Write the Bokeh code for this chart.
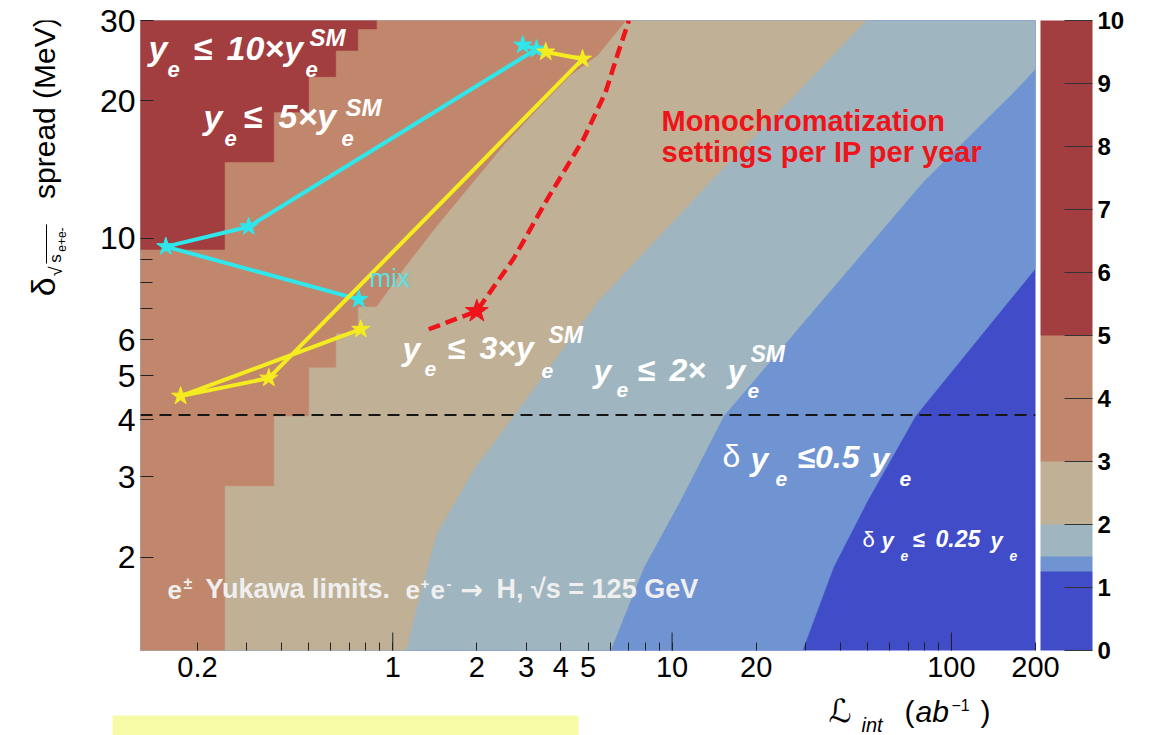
import math

from bokeh.plotting import figure
from bokeh.layouts import column, row
from bokeh.models import (Label, Span, FixedTicker, CustomJSTickFormatter, ColorBar,
                          LinearColorMapper, Range1d)
from bokeh.embed import file_html
from bokeh.resources import INLINE

# ---------------------------------------------------------------- data
# axis extents
lumi_range = (0.125, 200.0)     # integrated luminosity (ab^-1)
spread_range = (1.25, 30.0)     # centre-of-mass energy spread (MeV)

# contour levels of the y_e limit in units of y_e^SM, with their fills
levels = [0, 1.25, 1.5, 2, 3, 5, 10]
level_colors = ["#404cc8", "#7093d2", "#9fb6c0", "#bfb096", "#c0876c", "#a23e3f"]

# level 1.25 contour (delta y_e = 0.25 y_e)
edge_125_lumi = [29.3, 37.8, 50.1, 74.4, 200.0]
edge_125_spread = [1.25, 1.90, 2.66, 4.08, 8.59]

# level 1.5 contour (delta y_e = 0.5 y_e)
edge_150_lumi = [6.02, 7.92, 10.7, 15.3, 79.3, 167.0, 200.0]
edge_150_spread = [1.25, 1.90, 2.66, 4.08, 13.3, 20.9, 23.5]

# level 2 contour
edge_200_lumi = [1.113, 1.27, 1.437, 1.965, 2.71, 5.42, 13.7, 28.1, 49.5]
edge_200_spread = [1.25, 1.717, 2.254, 3.14, 4.08, 7.27, 13.3, 20.9, 30.0]

# level 3 contour: coarse luminosity bins, then the diagonal edge
edge_300_bins = [0.125, 0.25, 0.375, 0.5, 0.625, 0.75, 0.875]
edge_300_bin_spread = [1.25, 2.87, 4.08, 5.22, 6.19, 7.09]
edge_300_lumi = [1.095, 1.448, 1.902, 2.495, 3.30, 4.33, 5.42, 6.65, 6.8]
edge_300_spread = [8.59, 10.7, 13.1, 16.0, 19.2, 22.8, 25.2, 29.4, 30.0]

# level 5 contour: coarse luminosity bins
edge_500_bins = [0.125, 0.25, 0.375, 0.5, 0.625, 0.75, 0.875]
edge_500_bin_spread = [9.45, 14.7, 18.9, 22.6, 25.8, 28.75]

# running scenarios
mix_lumi = [2.92, 3.27, 0.305, 0.154, 0.756]
mix_spread = [26.5, 25.97, 10.6, 9.59, 7.35]
yellow_lumi = [3.53, 4.78, 0.360, 0.174, 0.768]
yellow_spread = [25.6, 24.7, 4.94, 4.51, 6.32]

# monochromatization settings per IP per year
mono_lumi = [1.345, 1.996, 2.71, 3.58, 4.82, 5.78, 6.37, 6.93, 7.0]
mono_spread = [6.32, 6.92, 9.03, 12.2, 16.5, 20.9, 25.2, 29.4, 30.0]
mono_point_lumi = [2.0]
mono_point_spread = [6.92]

# reference spread
spread_ref = 4.1

# axis ticks
x_labelled_ticks = [0.2, 1, 2, 3, 4, 5, 10, 20, 100, 200]
x_minor_ticks = [0.3, 0.4, 0.5, 0.6, 0.7, 0.8, 0.9, 6, 7, 8, 9, 30, 40, 50, 60, 70, 80, 90]
x_decades = [1, 10, 100]
y_labelled_ticks = [2, 3, 4, 5, 6, 10, 20, 30]
y_minor_ticks = [7, 8, 9]
z_ticks = list(range(11))

# ---------------------------------------------------------------- layout
W, H = 1153, 735
TITLE_W = 70                      # strip holding the vertical axis title
BOTTOM_H = 43                     # strip holding the horizontal axis title
LEFT, RIGHT, TOP = 140, 118, 20   # frame position on the page
MAIN_H = H - BOTTOM_H
FRAME_W = W - LEFT - RIGHT
FRAME_H = 630
FONT = "Liberation Sans"
BASELINE_SHIFT = 0.42             # label anchor correction, in em

CYAN = "#2fe6ea"
YELLOW = "#f4ec1e"
RED = "#ee1419"

p = figure(width=W - TITLE_W, height=MAIN_H, x_axis_type="log", y_axis_type="log",
           x_range=Range1d(*lumi_range), y_range=Range1d(*spread_range),
           min_border_left=LEFT - TITLE_W, min_border_right=RIGHT,
           min_border_top=TOP, min_border_bottom=MAIN_H - TOP - FRAME_H,
           output_backend="svg", toolbar_location=None)
p.grid.visible = False
p.outline_line_color = None
p.background_fill_color = level_colors[0]
p.border_fill_color = "white"


def lumi_at(px):
    """Luminosity at a horizontal page pixel."""
    lo, hi = lumi_range
    return 10 ** (math.log10(lo) + (px - LEFT) / FRAME_W * math.log10(hi / lo))


def spread_at(py):
    """Energy spread at a vertical page pixel."""
    lo, hi = spread_range
    return 10 ** (math.log10(hi) - (py - TOP) / FRAME_H * math.log10(hi / lo))


def steps(edges, thresholds):
    xs, ys = [], []
    for i, t in enumerate(thresholds):
        xs += [edges[i], edges[i + 1]]
        ys += [t, t]
    return xs, ys


def region_above(lumi, spread):
    """Polygon of the area above/left of a contour edge."""
    xs, ys = list(lumi), list(spread)
    if xs[0] > lumi_range[0]:
        xs.insert(0, lumi_range[0])
        ys.insert(0, spread_range[0])
    if ys[-1] < spread_range[1]:
        if xs[-1] >= lumi_range[1]:
            xs.append(lumi_range[1])
        else:
            xs.append(xs[-1])
        ys.append(spread_range[1])
    xs.append(lumi_range[0])
    ys.append(spread_range[1])
    return xs, ys


# ---------------------------------------------------------------- filled contours
s300x, s300y = steps(edge_300_bins, edge_300_bin_spread)
s500x, s500y = steps(edge_500_bins, edge_500_bin_spread)
edges = [
    (edge_125_lumi, edge_125_spread),
    (edge_150_lumi, edge_150_spread),
    (edge_200_lumi, edge_200_spread),
    (s300x + edge_300_lumi, s300y + edge_300_spread),
    (s500x, s500y),
]
for (lx, ly), color in zip(edges, level_colors[1:]):
    xs, ys = region_above(lx, ly)
    p.patch(xs, ys, fill_color=color, line_color=color, line_width=0.5)

# ---------------------------------------------------------------- lines
p.add_layout(Span(location=spread_ref, dimension="width", line_color="#161616",
                  line_dash="12 7", line_width=2))

p.line(mono_lumi, mono_spread, line_color=RED, line_width=4.5, line_dash="12 6")
p.scatter(mono_point_lumi, mono_point_spread, marker="star", size=24,
          fill_color=RED, line_color=RED)

p.line(mix_lumi, mix_spread, line_color=CYAN, line_width=4)
p.scatter(mix_lumi, mix_spread, marker="star", size=19, fill_color=CYAN, line_color=CYAN)

p.line(yellow_lumi, yellow_spread, line_color=YELLOW, line_width=4)
p.scatter(yellow_lumi, yellow_spread, marker="star", size=19,
          fill_color=YELLOW, line_color=YELLOW)

# taller ticks at the decades
tick_top = spread_range[0] * (spread_range[1] / spread_range[0]) ** (18 / FRAME_H)
p.segment(x0=x_decades, y0=[spread_range[0]] * len(x_decades),
          x1=x_decades, y1=[tick_top] * len(x_decades), line_color="#222222", line_width=1)

# ---------------------------------------------------------------- axes
xa = p.xaxis[0]
xa.ticker = FixedTicker(ticks=x_labelled_ticks, minor_ticks=x_minor_ticks)
xa.formatter = CustomJSTickFormatter(code="return String(tick)")
xa.major_tick_in, xa.major_tick_out = 8, 0
xa.minor_tick_in, xa.minor_tick_out = 8, 0
xa.major_label_standoff = 6
xa.major_label_text_font = FONT
xa.major_label_text_font_size = "29px"
xa.major_label_text_color = "black"

ya = p.yaxis[0]
ya.ticker = FixedTicker(ticks=y_labelled_ticks, minor_ticks=y_minor_ticks)
ya.formatter = CustomJSTickFormatter(code="return String(tick)")
ya.major_tick_in, ya.major_tick_out = 13, 0
ya.minor_tick_in, ya.minor_tick_out = 12, 0
ya.major_label_standoff = 5
ya.major_label_text_font = FONT
ya.major_label_text_font_size = "32px"
ya.major_label_text_color = "black"

for ax in (xa, ya):
    ax.axis_line_color = None
    ax.major_tick_line_color = "#222222"
    ax.minor_tick_line_color = "#222222"

# ---------------------------------------------------------------- colour scale
step = 0.25
palette = []
for i in range(int(round((levels[-1] - levels[0]) / step))):
    mid = levels[0] + (i + 0.5) * step
    for lo, hi, c in zip(levels[:-1], levels[1:], level_colors):
        if lo <= mid < hi:
            palette.append(c)
mapper = LinearColorMapper(palette=palette, low=levels[0], high=levels[-1])
cbar = ColorBar(color_mapper=mapper, ticker=FixedTicker(ticks=z_ticks),
                width=52, height=FRAME_H, location=(FRAME_W + 5, 0),
                padding=0, margin=0, label_standoff=5,
                major_tick_in=28, major_tick_out=0, major_tick_line_color="#333333",
                minor_tick_line_color=None,
                major_label_text_font=FONT, major_label_text_font_size="24px",
                major_label_text_font_style="bold", major_label_text_color="black",
                bar_line_color=None, border_line_color=None, background_fill_color=None)
p.add_layout(cbar)


# ---------------------------------------------------------------- texts
def tag(text, px, py, size, color="white", style="bold italic", angle=0.0, font=FONT,
        fig=None):
    """Place a text with its baseline start at page pixel (px, py)."""
    px = px - BASELINE_SHIFT * size * math.sin(angle)
    py = py - BASELINE_SHIFT * size * math.cos(angle)
    if fig is None:
        x, y, target = lumi_at(px), spread_at(py), p
    else:
        x, y, target = px, py, fig
    target.add_layout(Label(x=x, y=y, text=text,
                            text_font=font, text_font_size=f"{size}px",
                            text_font_style=style, text_color=color,
                            text_align="left", text_baseline="alphabetic", angle=angle))


# y_e <= 10 x y_e^SM
tag("y", 148, 62, 34)
tag("e", 167, 78, 22)
tag("\u2264", 193, 62, 34)
tag("10\u00d7y", 226, 62, 34)
tag("e", 305, 78, 22)
tag("SM", 309, 47, 24)
# y_e <= 5 x y_e^SM
tag("y", 203, 131, 34)
tag("e", 224, 147, 22)
tag("\u2264", 243, 130, 34)
tag("5\u00d7y", 278, 130, 34)
tag("e", 341, 147, 22)
tag("SM", 345, 117, 24)
# y_e <= 3 x y_e^SM
tag("y", 402, 362, 32)
tag("e", 424, 377, 21)
tag("\u2264", 447, 361, 32)
tag("3\u00d7y", 479, 361, 32)
tag("e", 541, 379, 21)
tag("SM", 548, 344, 23)
# y_e <= 2 x y_e^SM
tag("y", 593, 384, 32)
tag("e", 616, 398, 21)
tag("\u2264", 637, 383, 32)
tag("2\u00d7", 669, 383, 32)
tag("y", 727, 384, 32)
tag("e", 747, 399, 21)
tag("SM", 750, 363, 23)
# delta y_e <= 0.5 y_e
tag("\u03b4", 722, 469, 32, style="normal")
tag("y", 750, 472, 32)
tag("e", 775, 487, 21)
tag("\u22640.5", 797, 470, 32)
tag("y", 871, 472, 32)
tag("e", 899, 487, 21)
# delta y_e <= 0.25 y_e
tag("\u03b4", 862, 548, 22, style="normal")
tag("y", 881, 549, 22)
tag("e", 900, 561, 14)
tag("\u2264", 912, 548, 22)
tag("0.25", 935, 548, 23)
tag("y", 990, 549, 22)
tag("e", 1009, 561, 14)

# process label
GREY = "#efefef"
tag("e", 167, 600, 26, color=GREY, style="bold")
tag("\u00b1", 183, 590, 16, color=GREY, style="bold")
tag("Yukawa limits.", 205, 600, 27, color=GREY, style="bold")
tag("e", 405, 600, 26, color=GREY, style="bold")
tag("+", 420, 590, 15, color=GREY, style="bold")
tag("e", 430, 600, 26, color=GREY, style="bold")
tag("-", 446, 590, 15, color=GREY, style="bold")
tag("\u2192", 460, 600, 27, color=GREY, style="bold", font="DejaVu Sans")
tag("H, \u221as = 125 GeV", 496, 600, 27, color=GREY, style="bold")

# monochromatization note
tag("Monochromatization", 661, 133, 29, color=RED, style="bold")
tag("settings per IP per year", 661, 164, 29, color=RED, style="bold")

# scenario label
tag("mix", 369, 288, 26, color="#55e2e4", style="normal")


# ---------------------------------------------------------------- title strips
def strip(width, height, x0, y0):
    """Blank figure whose data units are page pixels (y pointing down)."""
    f = figure(width=width, height=height,
               x_range=Range1d(x0, x0 + width), y_range=Range1d(y0 + height, y0),
               min_border=0, output_backend="svg", toolbar_location=None)
    f.axis.visible = False
    f.grid.visible = False
    f.outline_line_color = None
    f.background_fill_color = "white"
    f.border_fill_color = "white"
    return f


left_strip = strip(TITLE_W, MAIN_H, 0, 0)
up = math.pi / 2
tag("spread (MeV)", 57, 196, 30, color="black", style="normal", angle=up, fig=left_strip)
tag("\u03b4", 57, 303, 34, color="black", style="normal", angle=up, fig=left_strip)
tag("\u221a", 63, 281, 18, color="black", style="normal", angle=up, fig=left_strip)
tag("s", 62, 266, 17, color="black", style="normal", angle=up, fig=left_strip)
tag("e+e-", 66, 254, 12, color="black", style="normal", angle=up, fig=left_strip)
left_strip.segment(x0=[46], y0=[267], x1=[46], y1=[224], line_color="black", line_width=1)

bottom_strip = strip(W, BOTTOM_H, 0, MAIN_H)
bottom_strip.quad(left=[112], right=[578], top=[715], bottom=[H],
                  fill_color="#f7fba6", line_color=None)
tag("\u2112", 828, 724, 32, color="black", style="italic", font="DejaVu Sans", fig=bottom_strip)
tag("int", 861, 733, 20, color="black", style="italic", fig=bottom_strip)
tag("(", 904, 724, 30, color="black", style="normal", fig=bottom_strip)
tag("ab", 915, 724, 30, color="black", style="italic", fig=bottom_strip)
tag("\u22121", 951, 711, 16, color="black", style="normal", fig=bottom_strip)
tag(")", 980, 724, 30, color="black", style="normal", fig=bottom_strip)

page = column(row(left_strip, p), bottom_strip)
open("out.html", "w").write(file_html(page, INLINE))
